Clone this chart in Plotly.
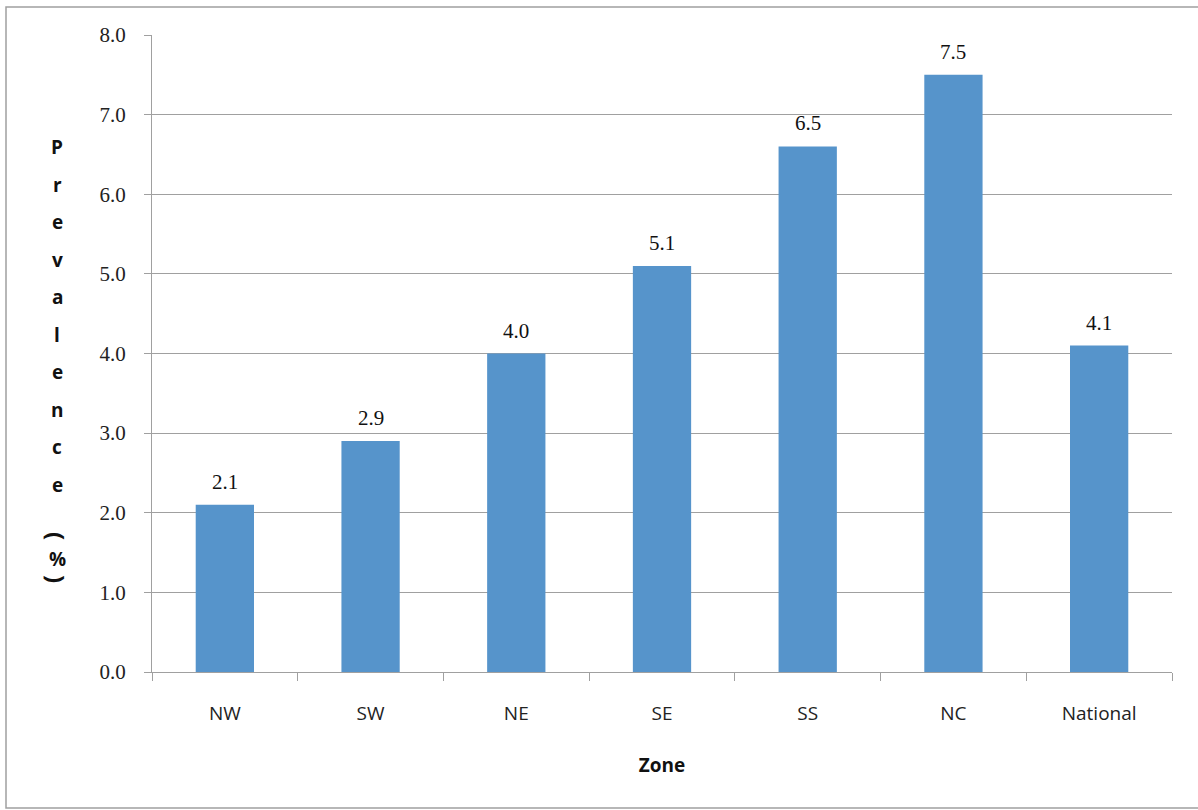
import plotly.graph_objects as go

# ---- data ----
zones = ["NW", "SW", "NE", "SE", "SS", "NC", "National"]
prevalence = [2.1, 2.9, 4.0, 5.1, 6.6, 7.5, 4.1]
value_labels = ["2.1", "2.9", "4.0", "5.1", "6.5", "7.5", "4.1"]
y_ticks = [0, 1, 2, 3, 4, 5, 6, 7, 8]
y_title_letters = ["P", "r", "e", "v", "a", "l", "e", "n", "c", "e", "(", "%", ")"]
x_title = "Zone"

# ---- layout geometry ----
W, H = 1198, 810
L, R, T, B = 152, 26, 35, 138
PW, PH = W - L - R, H - T - B

BAR = "#5694CB"
GRID = "#A0A0A0"
SERIF = "Liberation Serif, Times New Roman, serif"
SANS = "Open Sans, Noto Sans, sans-serif"

fig = go.Figure(
    go.Bar(
        x=zones,
        y=prevalence,
        marker=dict(color=BAR, line=dict(width=0)),
        hoverinfo="x+y",
    )
)

# data labels above bars
for z, v, t in zip(zones, prevalence, value_labels):
    fig.add_annotation(
        x=z, y=v, text=t, showarrow=False, yanchor="bottom", yshift=9,
        font=dict(family=SERIF, size=21, color="#111"),
    )

# stacked vertical y-axis title (parentheses turned sideways, as in the original)
def px_to_py(ypx):
    return (H - B - ypx) / PH

letter_y = [147 + 37.5 * i for i in range(10)] + [536, 559, 579]
for ch, ypx in zip(y_title_letters, letter_y):
    is_br = ch in ("(", ")")
    fig.add_annotation(
        x=(57 - L) / PW, y=px_to_py(ypx), xref="paper", yref="paper",
        text=ch, showarrow=False, xanchor="center", yanchor="middle",
        textangle=90 if is_br else 0,
        font=dict(family=SANS, size=24 if is_br else 19, color="#111",
                  weight="bold"),
    )

# outer border
fig.add_shape(
    type="rect", xref="paper", yref="paper",
    x0=(6 - L) / PW, x1=(1200 - L) / PW,
    y0=px_to_py(808), y1=px_to_py(7),
    line=dict(color="#A0A0A0", width=1.5), fillcolor="rgba(0,0,0,0)", layer="below",
)

fig.update_layout(
    width=W, height=H,
    margin=dict(l=L, r=R, t=T, b=B),
    bargap=0.6,
    plot_bgcolor="white", paper_bgcolor="white",
    showlegend=False,
    xaxis=dict(
        showline=True, linecolor=GRID, linewidth=1.2,
        ticks="outside", tickson="boundaries", ticklen=8, tickcolor=GRID,
        tickfont=dict(family=SANS, size=19, color="#222"),
        ticklabelstandoff=24,
        title=dict(text=x_title, standoff=33,
                   font=dict(family=SANS, size=19, color="#111", weight="bold")),
        showgrid=False,
    ),
    yaxis=dict(
        range=[0, 8], tickvals=y_ticks, tickformat=".1f",
        showline=True, linecolor=GRID, linewidth=1.2,
        ticks="outside", ticklen=7, tickcolor=GRID,
        tickfont=dict(family=SERIF, size=21, color="#222"),
        ticklabelstandoff=14,
        showgrid=True, gridcolor=GRID, gridwidth=1.2,
        zeroline=False,
    ),
)

fig.write_html("out.html")
